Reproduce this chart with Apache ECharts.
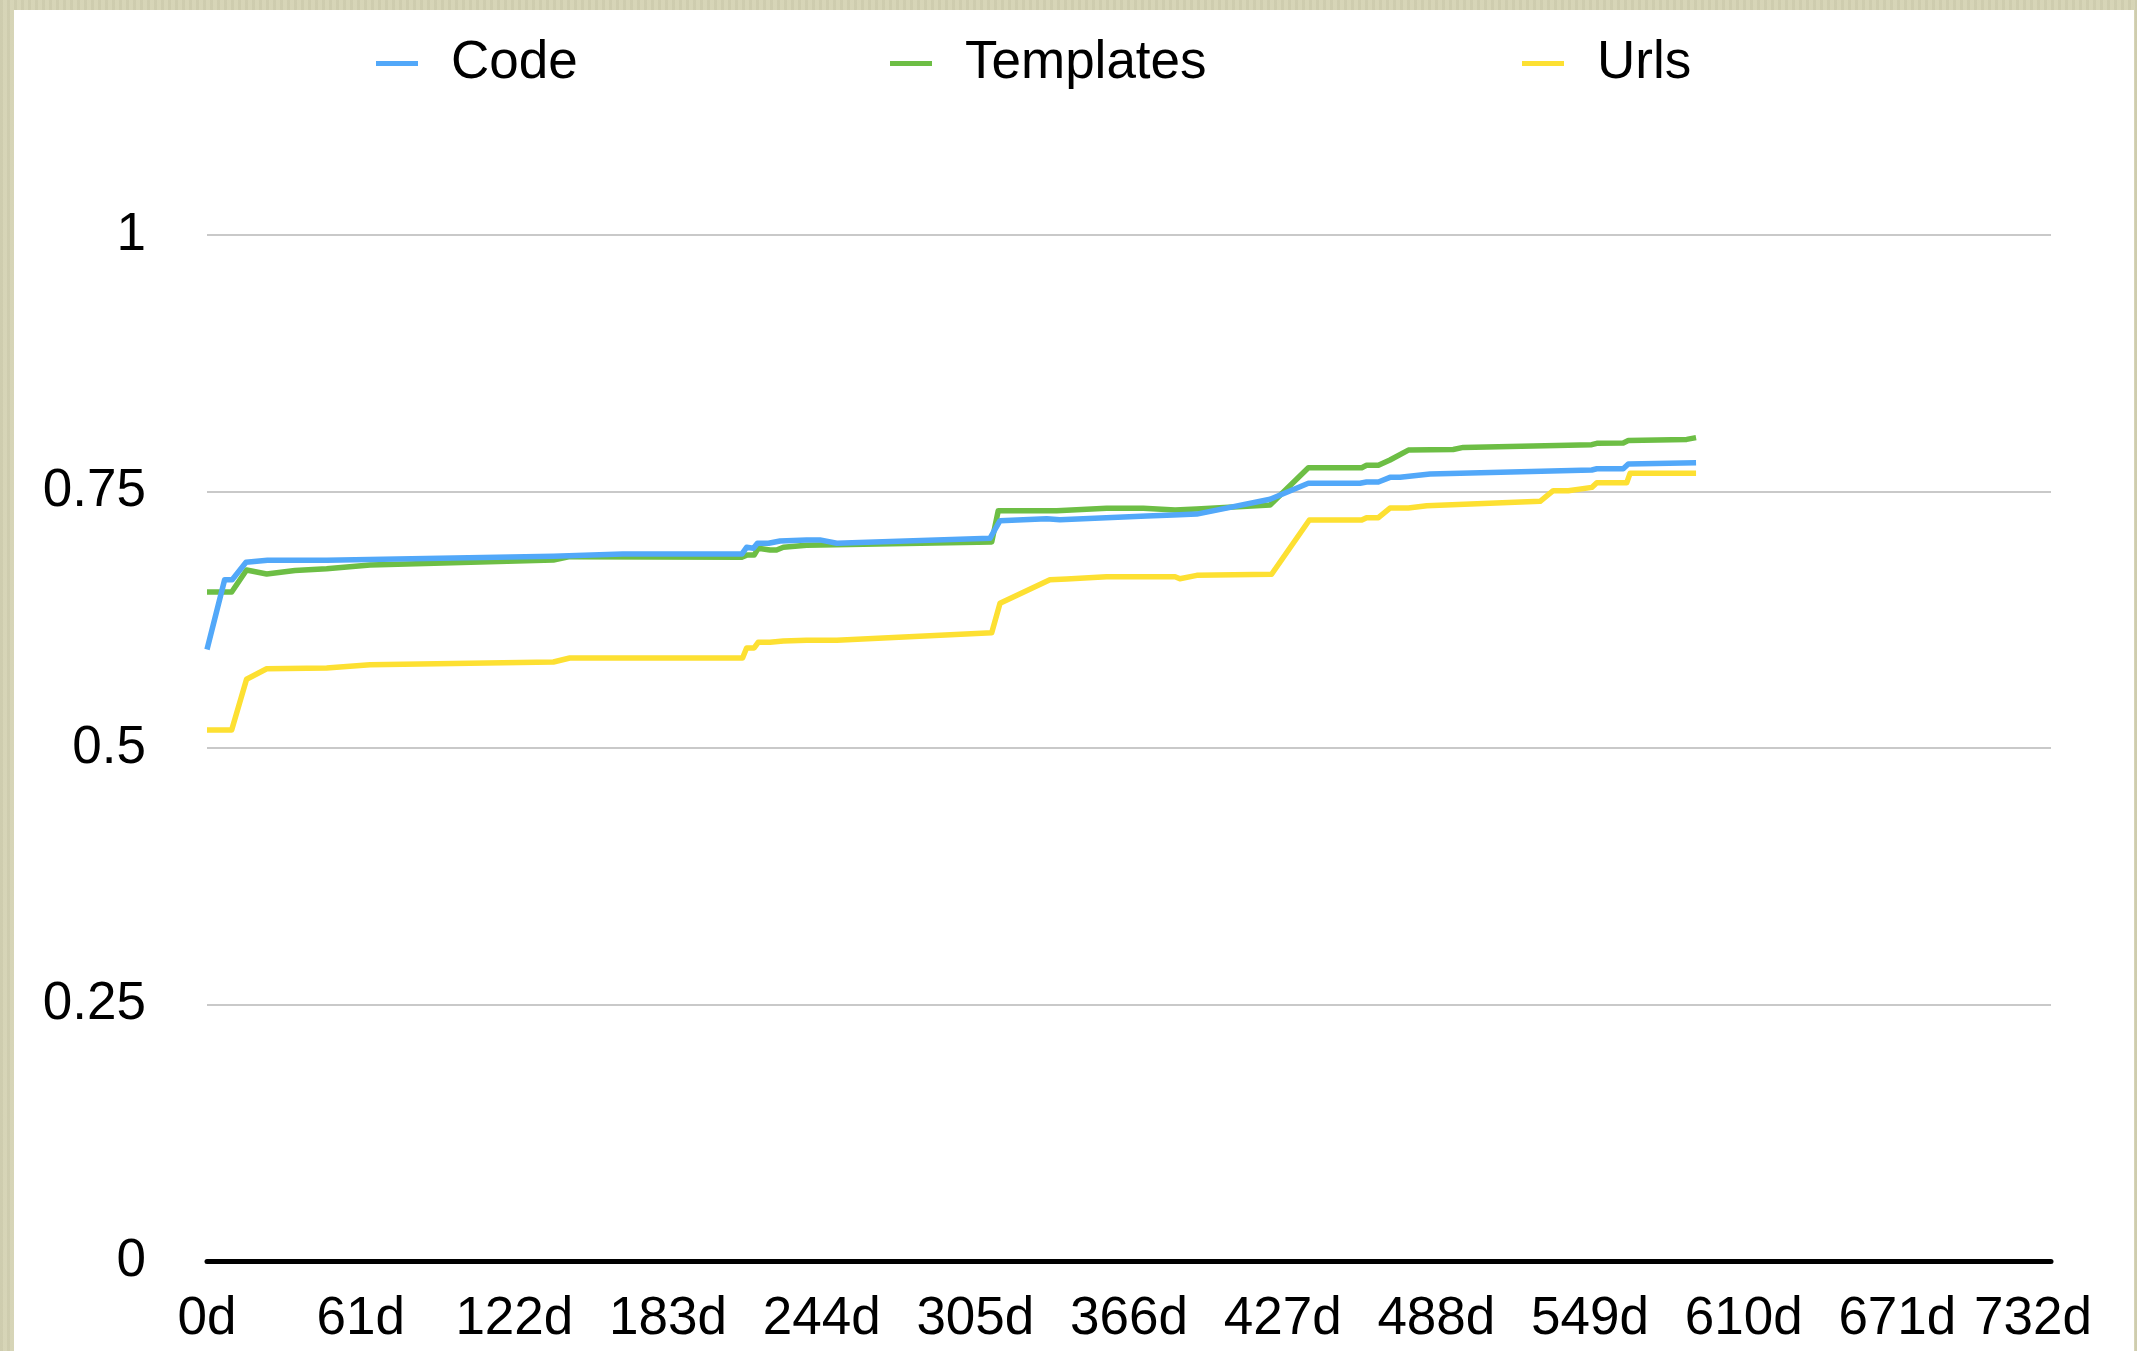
<!DOCTYPE html>
<html>
<head>
<meta charset="utf-8">
<script src="https://cdn.jsdelivr.net/npm/echarts@6/dist/echarts.min.js"></script>
<style>
  html, body { margin: 0; padding: 0; width: 2137px; height: 1351px; overflow: hidden;
    background-color: #d5d3b4;
    background-image: repeating-linear-gradient(90deg, rgba(0,0,0,0.03) 0px, rgba(0,0,0,0.03) 3px, rgba(255,255,255,0.04) 3px, rgba(255,255,255,0.04) 7px); }
  #panel { position: absolute; left: 14px; top: 10px; width: 2120px; height: 1341px; background: #ffffff; }
</style>
</head>
<body>
<div id="panel"></div>
<script>
// ---- data ----
const seriesNames = ['Code', 'Templates', 'Urls'];
const xTicks = [0, 61, 122, 183, 244, 305, 366, 427, 488, 549, 610, 671, 732];
const yTicks = [0, 0.25, 0.5, 0.75, 1];

const codeData = [[0,0.596],[7,0.664],[10,0.664],[15.5,0.681],[24,0.683],[47.5,0.683],[137.5,0.687],[165,0.689],[212.3,0.689],[214.2,0.6956],[216.9,0.6946],[218.5,0.6995],[222.9,0.6995],[227.5,0.7018],[238,0.7028],[243.3,0.7028],[250,0.6995],[310.8,0.7044],[314.8,0.7216],[333.3,0.7235],[338.6,0.7225],[373,0.7261],[383.6,0.727],[392.9,0.728],[422,0.7424],[437.2,0.758],[457.7,0.758],[460.3,0.7593],[465,0.7593],[469.6,0.7638],[473.6,0.7638],[485.5,0.767],[549.7,0.771],[551.7,0.7722],[562.2,0.7722],[564.2,0.7768],[591.1,0.778]];

const templatesData = [[0,0.652],[9.8,0.652],[15.7,0.6735],[23.7,0.6696],[34.9,0.673],[47.5,0.6748],[64.7,0.6784],[137.5,0.6832],[144,0.6865],[212.3,0.686],[214.2,0.688],[217.2,0.688],[218.8,0.6946],[223.5,0.693],[226.1,0.693],[228.8,0.6956],[238,0.6975],[311.5,0.7008],[314.1,0.7313],[337.3,0.7313],[357.1,0.7336],[371.7,0.7336],[384.3,0.732],[392.9,0.733],[422,0.7368],[437.2,0.7732],[458.4,0.7732],[460.3,0.7755],[465,0.7755],[469.6,0.7807],[476.9,0.7904],[494.7,0.791],[498.7,0.793],[549.7,0.7956],[551.7,0.797],[562.2,0.7973],[564.2,0.7996],[587.4,0.8008],[591.1,0.8025]];

const urlsData = [[0,0.5175],[9.8,0.5175],[15.7,0.567],[23.7,0.5773],[47.5,0.578],[64.7,0.5812],[137.5,0.5838],[144,0.5877],[212.6,0.5877],[214.2,0.5975],[217.2,0.5975],[218.8,0.603],[223.5,0.603],[228.8,0.6043],[238,0.605],[250,0.605],[311.5,0.6124],[314.8,0.641],[334.6,0.664],[341.3,0.6647],[357.1,0.667],[384.3,0.667],[386.2,0.665],[392.9,0.6683],[422.6,0.6693],[437.6,0.7222],[458.4,0.7222],[460.3,0.7245],[465,0.7245],[469.6,0.7339],[476.9,0.7339],[484.2,0.7361],[529.2,0.7404],[534.4,0.7508],[540.4,0.7508],[549.7,0.754],[551.7,0.7586],[563.6,0.7586],[564.9,0.7677],[591.1,0.7677]];

// ---- styling ----
const colors = { Code: '#52a8f9', Templates: '#6dbe45', Urls: '#fde032' };
const FONT = '"Liberation Sans", Arial, Helvetica, sans-serif';
const FS = 53;

const chart = echarts.init(document.getElementById('panel'), null, { renderer: 'canvas' });

function legendAt(name, left) {
  return {
    data: [name], left: left, top: 22, icon: 'rect', itemWidth: 42, itemHeight: 5,
    textStyle: { fontFamily: FONT, fontSize: FS, color: '#000', padding: [0, 0, 0, 28] },
    selectedMode: false
  };
}

const dataMap = { Code: codeData, Templates: templatesData, Urls: urlsData };
const zMap = { Code: 5, Templates: 4, Urls: 3 };

chart.setOption({
  animation: false,
  backgroundColor: '#ffffff',
  legend: [legendAt('Code', 357), legendAt('Templates', 871), legendAt('Urls', 1503)],
  grid: { left: 193, right: 83, top: 225, bottom: 90, containLabel: false },
  xAxis: {
    type: 'value', min: xTicks[0], max: xTicks[xTicks.length - 1], interval: xTicks[1] - xTicks[0],
    axisLine: { show: true, lineStyle: { color: '#000', width: 5 } },
    axisTick: { show: false },
    splitLine: { show: false },
    axisLabel: {
      margin: 32, color: '#000', fontFamily: FONT, fontSize: FS,
      formatter: function (v) { return v === 732 ? '{m|' + v + 'd}' : v + 'd'; },
      rich: { m: { fontFamily: FONT, fontSize: FS, color: '#000', padding: [0, 36, 0, 0] } }
    }
  },
  yAxis: {
    type: 'value', min: yTicks[0], max: yTicks[yTicks.length - 1], interval: yTicks[1] - yTicks[0],
    axisLine: { show: false }, axisTick: { show: false },
    splitLine: { show: true, lineStyle: { color: '#c9c9c9', width: 2 } },
    axisLabel: { margin: 61, color: '#000', fontFamily: FONT, fontSize: FS,
      formatter: function (v) { return String(v); } }
  },
  series: seriesNames.map(function (n) {
    return {
      name: n, type: 'line', data: dataMap[n], showSymbol: false, symbol: 'none',
      z: zMap[n], color: colors[n],
      lineStyle: { color: colors[n], width: 5.5, join: 'round' }
    };
  })
});
</script>
</body>
</html>
